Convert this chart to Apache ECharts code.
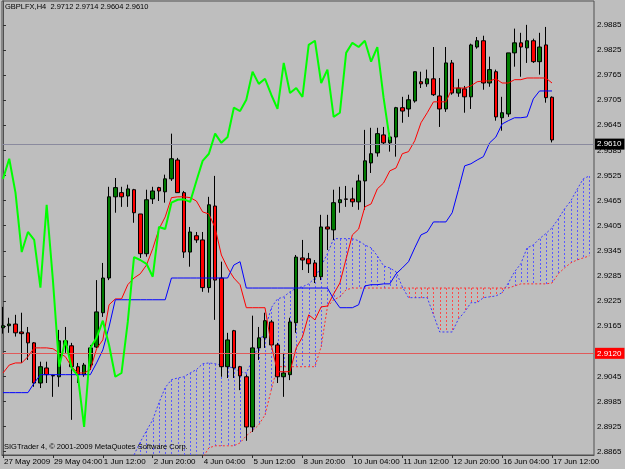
<!DOCTYPE html>
<html><head><meta charset="utf-8">
<script src="https://cdn.jsdelivr.net/npm/echarts@6.0.0/dist/echarts.min.js"></script>
<style>html,body{margin:0;padding:0;background:#bebebe}#c{width:625px;height:469px}</style>
</head><body><div id="c"></div>
<script>
// ---- axis tick labels ----
const tickIdx = [0, 8, 16, 24, 32, 40, 48, 56, 64, 72, 80, 88];
const tickLabels = ['27 May 2009', '29 May 04:00', '1 Jun 12:00', '2 Jun 20:00', '4 Jun 04:00', '5 Jun 12:00',
  '8 Jun 20:00', '10 Jun 04:00', '11 Jun 12:00', '12 Jun 20:00', '16 Jun 04:00', '17 Jun 12:00'];
const priceTicks = [2.8865, 2.8925, 2.8985, 2.9045, 2.9105, 2.9165, 2.9225, 2.9285, 2.9345,
  2.9405, 2.9465, 2.9525, 2.9585, 2.9645, 2.9705, 2.9765, 2.9825, 2.9885];

// ---- H4 candles (bar index 0 = 27 May 2009 20:00) ----
const opens = [2.9161, 2.9166, 2.9170, 2.9151, 2.9149, 2.9125, 2.9029, 2.9065, 2.9047, 2.9044,
  2.9130, 2.9118, 2.9068, 2.9049, 2.9072, 2.9115, 2.9197, 2.9280, 2.9474, 2.9484,
  2.9476, 2.9491, 2.9433, 2.9338, 2.9469, 2.9496, 2.9486, 2.9517, 2.9562, 2.9484,
  2.9342, 2.9381, 2.9371, 2.9257, 2.9452, 2.9280, 2.9068, 2.9154, 2.9068, 2.9044,
  2.8924, 2.9113, 2.9137, 2.9175, 2.9120, 2.9044, 2.9049, 2.9173, 2.9328, 2.9326,
  2.9316, 2.9283, 2.9402, 2.9395, 2.9460, 2.9469, 2.9469, 2.9462, 2.9512, 2.9555,
  2.9579, 2.9622, 2.9603, 2.9617, 2.9687, 2.9684, 2.9703, 2.9749, 2.9744, 2.9756,
  2.9715, 2.9684, 2.9794, 2.9722, 2.9732, 2.9713, 2.9832, 2.9847, 2.9746, 2.9773,
  2.9663, 2.9672, 2.9818, 2.9842, 2.9830, 2.9847, 2.9797, 2.9837, 2.9712];
const highs = [2.9211, 2.9185, 2.9192, 2.9197, 2.9163, 2.9127, 2.9080, 2.9080, 2.9049, 2.9156,
  2.9163, 2.9125, 2.9077, 2.9077, 2.9120, 2.9275, 2.9316, 2.9498, 2.9519, 2.9498,
  2.9503, 2.9493, 2.9433, 2.9491, 2.9498, 2.9498, 2.9527, 2.9625, 2.9567, 2.9488,
  2.9402, 2.9390, 2.9390, 2.9474, 2.9524, 2.9319, 2.9149, 2.9156, 2.9070, 2.9049,
  2.9190, 2.9163, 2.9197, 2.9180, 2.9125, 2.9101, 2.9185, 2.9335, 2.9371, 2.9340,
  2.9323, 2.9431, 2.9431, 2.9491, 2.9498, 2.9500, 2.9496, 2.9527, 2.9634, 2.9639,
  2.9639, 2.9641, 2.9627, 2.9689, 2.9713, 2.9718, 2.9773, 2.9773, 2.9778, 2.9832,
  2.9758, 2.9832, 2.9801, 2.9756, 2.9739, 2.9840, 2.9856, 2.9859, 2.9809, 2.9778,
  2.9713, 2.9818, 2.9876, 2.9866, 2.9885, 2.9852, 2.9866, 2.9880, 2.9714];
const lows = [2.9147, 2.9149, 2.9140, 2.9077, 2.9084, 2.9020, 2.9017, 2.9029, 2.8996, 2.9020,
  2.9101, 2.8941, 2.9029, 2.9044, 2.9060, 2.9113, 2.9187, 2.9275, 2.9436, 2.9450,
  2.9450, 2.9412, 2.9328, 2.9331, 2.9457, 2.9464, 2.9460, 2.9512, 2.9484, 2.9328,
  2.9307, 2.9364, 2.9247, 2.9245, 2.9180, 2.9044, 2.9041, 2.9041, 2.9012, 2.8891,
  2.8912, 2.9084, 2.9113, 2.9115, 2.9029, 2.8996, 2.9036, 2.9149, 2.9299, 2.9292,
  2.9268, 2.9275, 2.9347, 2.9371, 2.9436, 2.9450, 2.9450, 2.9443, 2.9443, 2.9531,
  2.9570, 2.9598, 2.9582, 2.9570, 2.9651, 2.9665, 2.9699, 2.9734, 2.9737, 2.9715,
  2.9641, 2.9677, 2.9718, 2.9713, 2.9675, 2.9684, 2.9828, 2.9730, 2.9737, 2.9656,
  2.9632, 2.9665, 2.9785, 2.9761, 2.9794, 2.9794, 2.9766, 2.9699, 2.9604];
const closes = [2.9166, 2.9170, 2.9149, 2.9147, 2.9125, 2.9029, 2.9068, 2.9049, 2.9046, 2.9130,
  2.9118, 2.9068, 2.9049, 2.9072, 2.9113, 2.9199, 2.9280, 2.9474, 2.9496, 2.9474,
  2.9493, 2.9436, 2.9338, 2.9467, 2.9488, 2.9488, 2.9517, 2.9565, 2.9484, 2.9342,
  2.9390, 2.9371, 2.9257, 2.9455, 2.9275, 2.9068, 2.9132, 2.9065, 2.9046, 2.8924,
  2.9113, 2.9137, 2.9178, 2.9120, 2.9044, 2.9053, 2.9175, 2.9330, 2.9323, 2.9314,
  2.9283, 2.9402, 2.9397, 2.9460, 2.9467, 2.9468, 2.9462, 2.9512, 2.9560, 2.9577,
  2.9625, 2.9603, 2.9617, 2.9687, 2.9679, 2.9706, 2.9773, 2.9744, 2.9756, 2.9718,
  2.9684, 2.9794, 2.9722, 2.9734, 2.9713, 2.9837, 2.9847, 2.9746, 2.9778, 2.9665,
  2.9675, 2.9818, 2.9842, 2.9832, 2.9847, 2.9797, 2.9832, 2.9711, 2.9610];

// ---- Ichimoku lines ----
const tenkan = [2.9053, 2.9072, 2.9077, 2.9077, 2.9092, 2.9113, 2.9113, 2.9113, 2.9111, 2.9101,
  2.9092, 2.9068, 2.9053, 2.9053, 2.9061, 2.9111, 2.9132, 2.9216, 2.9230, 2.9230,
  2.9264, 2.9280, 2.9290, 2.9311, 2.9350, 2.9397, 2.9426, 2.9472, 2.9474, 2.9474,
  2.9472, 2.9464, 2.9438, 2.9433, 2.9400, 2.9335, 2.9304, 2.9280, 2.9264, 2.9209,
  2.9209, 2.9209, 2.9209, 2.9120, 2.9056, 2.9056, 2.9056, 2.9113, 2.9139, 2.9192,
  2.9180, 2.9211, 2.9213, 2.9242, 2.9268, 2.9326, 2.9383, 2.9397, 2.9450, 2.9457,
  2.9493, 2.9507, 2.9536, 2.9543, 2.9577, 2.9582, 2.9608, 2.9651, 2.9675, 2.9701,
  2.9701, 2.9701, 2.9734, 2.9734, 2.9734, 2.9739, 2.9749, 2.9751, 2.9751, 2.9756,
  2.9746, 2.9746, 2.9754, 2.9754, 2.9758, 2.9758, 2.9758, 2.9758, 2.9746];
const kijun = [2.9006, 2.9006, 2.9006, 2.9006, 2.9006, 2.9029, 2.9049, 2.9049, 2.9049, 2.9049,
  2.9049, 2.9049, 2.9049, 2.9049, 2.9049, 2.9077, 2.9108, 2.9163, 2.9228, 2.9228,
  2.9228, 2.9228, 2.9228, 2.9228, 2.9228, 2.9228, 2.9228, 2.9280, 2.9280, 2.9280,
  2.9280, 2.9280, 2.9280, 2.9280, 2.9280, 2.9280, 2.9280, 2.9311, 2.9319, 2.9256,
  2.9256, 2.9256, 2.9256, 2.9256, 2.9256, 2.9256, 2.9256, 2.9256, 2.9256, 2.9256,
  2.9256, 2.9256, 2.9256, 2.9230, 2.9209, 2.9209, 2.9209, 2.9216, 2.9261, 2.9264,
  2.9264, 2.9266, 2.9266, 2.9290, 2.9304, 2.9319, 2.9352, 2.9383, 2.9390, 2.9414,
  2.9414, 2.9414, 2.9436, 2.9491, 2.9548, 2.9553, 2.9562, 2.9570, 2.9603, 2.9617,
  2.9648, 2.9656, 2.9663, 2.9663, 2.9665, 2.9708, 2.9727, 2.9727, 2.9727];
// Chikou span, bars 0..62
const chikou = [2.9517, 2.9565, 2.9484, 2.9342, 2.9390, 2.9371, 2.9257, 2.9455, 2.9275, 2.9068,
  2.9132, 2.9065, 2.9046, 2.8924, 2.9113, 2.9137, 2.9178, 2.9120, 2.9044, 2.9053,
  2.9175, 2.9330, 2.9323, 2.9314, 2.9283, 2.9402, 2.9397, 2.9460, 2.9467, 2.9468,
  2.9462, 2.9512, 2.9560, 2.9577, 2.9625, 2.9603, 2.9617, 2.9687, 2.9679, 2.9706,
  2.9773, 2.9744, 2.9756, 2.9718, 2.9684, 2.9794, 2.9722, 2.9734, 2.9713, 2.9837,
  2.9847, 2.9746, 2.9778, 2.9665, 2.9675, 2.9818, 2.9842, 2.9832, 2.9847, 2.9797,
  2.9832, 2.9711, 2.9610];
// Kumo, bars 20..94 (values below the frame estimated)
const cloudStart = 20;
const senkouA = [2.8822, 2.8857, 2.8888, 2.8915, 2.8941, 2.8982, 2.9018, 2.9037, 2.9041, 2.9044,
  2.9053, 2.9061, 2.9075, 2.9077, 2.9075, 2.9072, 2.9068, 2.9065, 2.9056, 2.9053,
  2.9084, 2.9120, 2.9156, 2.9209, 2.9230, 2.9235, 2.9247, 2.9256, 2.9259, 2.9266,
  2.9280, 2.9309, 2.9338, 2.9374, 2.9374, 2.9374, 2.9374, 2.9369, 2.9359, 2.9352,
  2.9333, 2.9309, 2.9304, 2.9295, 2.9259, 2.9233, 2.9233, 2.9233, 2.9233, 2.9192,
  2.9151, 2.9151, 2.9151, 2.9182, 2.9199, 2.9221, 2.9221, 2.9233, 2.9235, 2.9237,
  2.9245, 2.9268, 2.9295, 2.9314, 2.9352, 2.9359, 2.9374, 2.9386, 2.9400, 2.9421,
  2.9445, 2.9464, 2.9491, 2.9517, 2.9524];
const senkouB = [2.8822, 2.8822, 2.8822, 2.8822, 2.8822, 2.8822, 2.8822, 2.8822, 2.8822, 2.8822,
  2.8822, 2.8822, 2.8850, 2.8874, 2.8879, 2.8879, 2.8879, 2.8879, 2.8886, 2.8903,
  2.8915, 2.8929, 2.8953, 2.9013, 2.9068, 2.9068, 2.9068, 2.9068, 2.9068, 2.9068,
  2.9068, 2.9116, 2.9211, 2.9228, 2.9235, 2.9252, 2.9256, 2.9256, 2.9256, 2.9256,
  2.9256, 2.9256, 2.9256, 2.9256, 2.9256, 2.9256, 2.9256, 2.9256, 2.9256, 2.9256,
  2.9256, 2.9256, 2.9256, 2.9256, 2.9256, 2.9256, 2.9256, 2.9256, 2.9256, 2.9256,
  2.9256, 2.9256, 2.9261, 2.9266, 2.9266, 2.9266, 2.9266, 2.9266, 2.9268, 2.9290,
  2.9304, 2.9316, 2.9323, 2.9328, 2.9333];

const bidPrice = 2.9610;
const hLinePrice = 2.9120;
const headerText = 'GBPLFX,H4  2.9712 2.9714 2.9604 2.9610';
const footerText = 'SIGTrader 4, \u00a9 2001-2009 MetaQuotes Software Corp.';

const Y_MIN = 2.8857, Y_MAX = 2.9942;
const FONT = "'Liberation Sans Narrow','Liberation Sans',Arial,sans-serif";
const FS = 8, FS_TXT = 7.5;
const BLUE_DOT = '#3a3aff', RED_DOT = '#ff3030';
const HATCH_BLUE = '#5a5aff', HATCH_RED = '#ff4a4a';
const chart = echarts.init(document.getElementById('c'), null, {renderer: 'canvas'});

const idx = (arr, start) => arr.map((v, k) => [start + k, v]);
const kumo = senkouA.map((a, k) => [cloudStart + k, a, senkouB[k]]);

function hatchSeries(name, color, keep) {
  return {
    type: 'custom', name, z: 1, silent: true, clip: true,
    itemStyle: {color},
    data: kumo.filter(keep),
    encode: {x: 0, y: [1, 2]},
    renderItem(params, api) {
      const x = api.value(0), a = api.value(1), b = api.value(2);
      const cs = params.coordSys;
      const p1 = api.coord([x, a]), p2 = api.coord([x, b]);
      const clampY = y => Math.max(cs.y, Math.min(cs.y + cs.height, y));
      const px = Math.round(p1[0]) + 0.5;
      const y1 = Math.round(clampY(Math.min(p1[1], p2[1]))), y2 = Math.round(clampY(Math.max(p1[1], p2[1])));
      return {type: 'line', shape: {x1: px, y1, x2: px, y2},
        style: {stroke: color, fill: null, lineWidth: 1, lineDash: [2, 2], opacity: 1}};
    }
  };
}

chart.setOption({
  animation: false,
  backgroundColor: '#bebebe',
  textStyle: {fontFamily: FONT},
  grid: {left: 2, right: 31, top: 1, bottom: 14, show: true, borderColor: '#505050', borderWidth: 1, backgroundColor: 'transparent'},
  xAxis: {
    type: 'value', min: -0.16, max: 94.73,
    splitLine: {show: false},
    axisLine: {show: true, lineStyle: {color: '#505050'}},
    axisTick: {show: true, length: 3, lineStyle: {color: '#303030'}, customValues: tickIdx},
    axisLabel: {
      customValues: tickIdx, color: '#000', fontSize: FS, fontFamily: FONT, margin: 3, align: 'left', padding: [0, 0, 0, 1],
      showMinLabel: true, showMaxLabel: true, hideOverlap: false,
      formatter: v => { const k = tickIdx.indexOf(Math.round(v)); return k >= 0 ? tickLabels[k] : ''; }
    }
  },
  yAxis: {
    type: 'value', position: 'right', min: Y_MIN, max: Y_MAX, scale: true,
    splitLine: {show: false},
    axisLine: {show: true, lineStyle: {color: '#505050'}},
    axisTick: {show: true, length: 3, lineStyle: {color: '#303030'}, customValues: priceTicks},
    axisLabel: {customValues: priceTicks, color: '#000', fontSize: FS, fontFamily: FONT, margin: 3,
      showMinLabel: true, showMaxLabel: true, formatter: v => v.toFixed(4)}
  },
  graphic: [
    {type: 'text', left: 5, top: 3, z: 100, style: {text: headerText, fill: '#000', font: FS_TXT + 'px ' + FONT}},
    {type: 'text', left: 4, top: 443, z: 100, style: {text: footerText, fill: '#000', font: FS_TXT + 'px ' + FONT}}
  ],
  series: [
    hatchSeries('Kumo up', HATCH_BLUE, d => d[1] >= d[2]),
    hatchSeries('Kumo down', HATCH_RED, d => d[1] < d[2]),
    {type: 'line', name: 'Senkou A', z: 2, data: idx(senkouA, cloudStart), symbol: 'none', clip: true,
      lineStyle: {color: BLUE_DOT, width: 1, type: [2, 2]}},
    {type: 'line', name: 'Senkou B', z: 2, data: idx(senkouB, cloudStart), symbol: 'none', clip: true,
      lineStyle: {color: RED_DOT, width: 1, type: [2, 2]}},
    {
      type: 'candlestick', name: 'GBPLFX', z: 3, barWidth: 4,
      data: opens.map((o, i) => [i, o, closes[i], lows[i], highs[i]]),
      encode: {x: 0, y: [1, 2, 3, 4]},
      itemStyle: {color: '#007a00', color0: '#ff0000', borderColor: '#000', borderColor0: '#000', borderWidth: 1},
      markLine: {
        symbol: ['none', 'none'], silent: true, animation: false,
        data: [
          {yAxis: bidPrice, lineStyle: {color: '#8a8a9e', width: 1, type: 'solid'},
            label: {show: true, position: 'end', distance: 1, formatter: bidPrice.toFixed(4), color: '#fff', backgroundColor: '#000', padding: [2, 3, 1, 2], fontSize: FS, fontFamily: FONT}},
          {yAxis: hLinePrice, lineStyle: {color: '#e05a5a', width: 1, type: 'solid'},
            label: {show: true, position: 'end', distance: 1, formatter: hLinePrice.toFixed(4), color: '#fff', backgroundColor: '#ff0000', padding: [2, 3, 1, 2], fontSize: FS, fontFamily: FONT}}
        ]
      }
    },
    {type: 'line', name: 'Tenkan-sen', z: 4, data: idx(tenkan, 0), symbol: 'none', lineStyle: {color: '#ff0000', width: 1}},
    {type: 'line', name: 'Kijun-sen', z: 4, data: idx(kijun, 0), symbol: 'none', lineStyle: {color: '#0000ff', width: 1}},
    {type: 'line', name: 'Chikou Span', z: 5, data: idx(chikou, 0), symbol: 'none', lineStyle: {color: '#00ff00', width: 2}}
  ]
});
</script>
</body></html>
